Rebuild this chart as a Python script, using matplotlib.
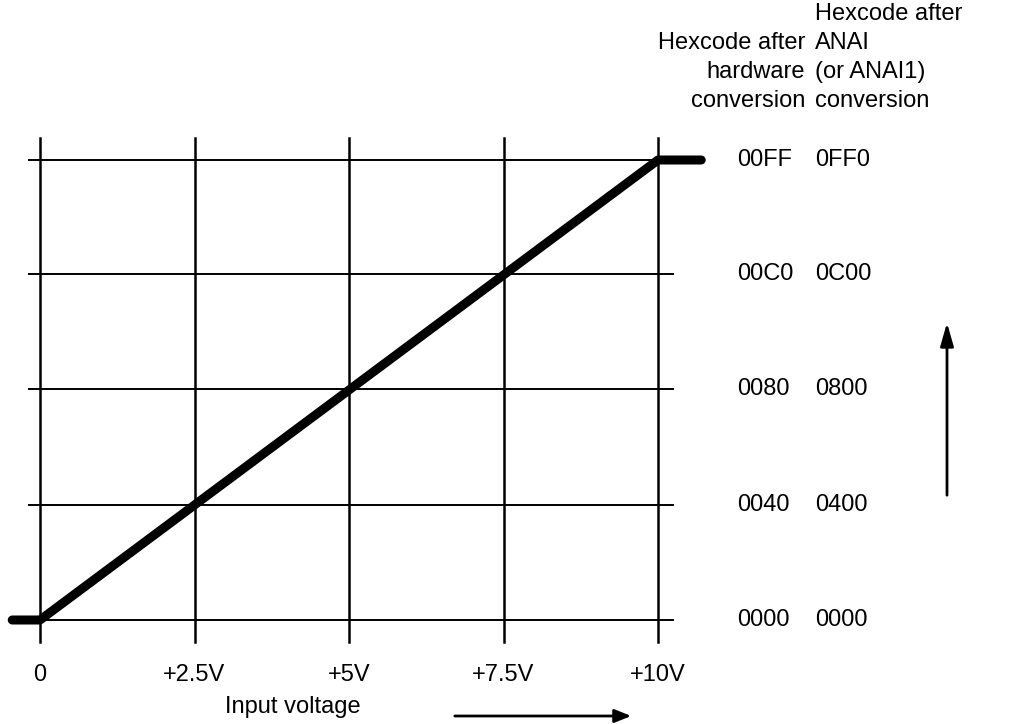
import matplotlib.pyplot as plt
from matplotlib.transforms import blended_transform_factory

plt.rcParams['font.family'] = ['Liberation Sans', 'DejaVu Sans']

# data
volts = [0, 2.5, 5, 7.5, 10]
volt_labels = ['0', '+2.5V', '+5V', '+7.5V', '+10V']
codes = [0, 64, 128, 192, 255]
hw_labels = ['0000', '0040', '0080', '00C0', '00FF']
anai_labels = ['0000', '0400', '0800', '0C00', '0FF0']
curve_x = [-0.45, 0, 10, 10.7]
curve_y = [0, 0, 255, 255]

W, H = 1023, 724
fig = plt.figure(figsize=(W / 100, H / 100), dpi=100)
ax = fig.add_axes([40 / W, (H - 620) / H, 618 / W, 460 / H])
ax.set_xlim(0, 10)
ax.set_ylim(0, 255)
for s in ax.spines.values():
    s.set_visible(False)
ax.set_yticks([])
ax.set_xticks(volts, volt_labels, fontsize=17)
ax.tick_params(axis='x', length=0, pad=32)

# grid drawn by hand so it can run past the frame
for v in volts:
    ax.plot([v, v], [-12, 267], color='black', lw=1.8, clip_on=False)
for c in codes:
    x_end = 10 if c == 255 else 10.25
    ax.plot([-0.17, x_end], [c, c], color='black', lw=1.4, clip_on=False)

ax.plot(curve_x, curve_y, color='black', lw=6.5, solid_capstyle='round', clip_on=False)

# right-hand code columns
tr = blended_transform_factory(fig.transFigure, ax.transData)
for c, a, b in zip(codes, hw_labels, anai_labels):
    ax.text(737 / W, c, a, transform=tr, fontsize=17, va='center', ha='left')
    ax.text(815 / W, c, b, transform=tr, fontsize=17, va='center', ha='left')

# column headers
for i, t in enumerate(['Hexcode after', 'hardware', 'conversion']):
    fig.text(805 / W, 1 - (43 + 29 * i) / H, t, fontsize=17, ha='right', va='center')
for i, t in enumerate(['Hexcode after', 'ANAI', '(or ANAI1)', 'conversion']):
    fig.text(815 / W, 1 - (14 + 29 * i) / H, t, fontsize=17, ha='left', va='center')

fig.text(293 / W, 1 - 707 / H, 'Input voltage', fontsize=17, ha='center', va='center')

# direction arrows
fig.add_artist(plt.matplotlib.patches.FancyArrowPatch(
    (452 / W, 1 - 716 / H), (634 / W, 1 - 716 / H), transform=fig.transFigure,
    arrowstyle='-|>,head_length=10,head_width=4', lw=2, color='black', mutation_scale=1))
fig.add_artist(plt.matplotlib.patches.FancyArrowPatch(
    (947 / W, 1 - 498 / H), (947 / W, 1 - 320 / H), transform=fig.transFigure,
    arrowstyle='-|>,head_length=14,head_width=4', lw=2, color='black', mutation_scale=1))

fig.savefig('out.png', dpi=100)
